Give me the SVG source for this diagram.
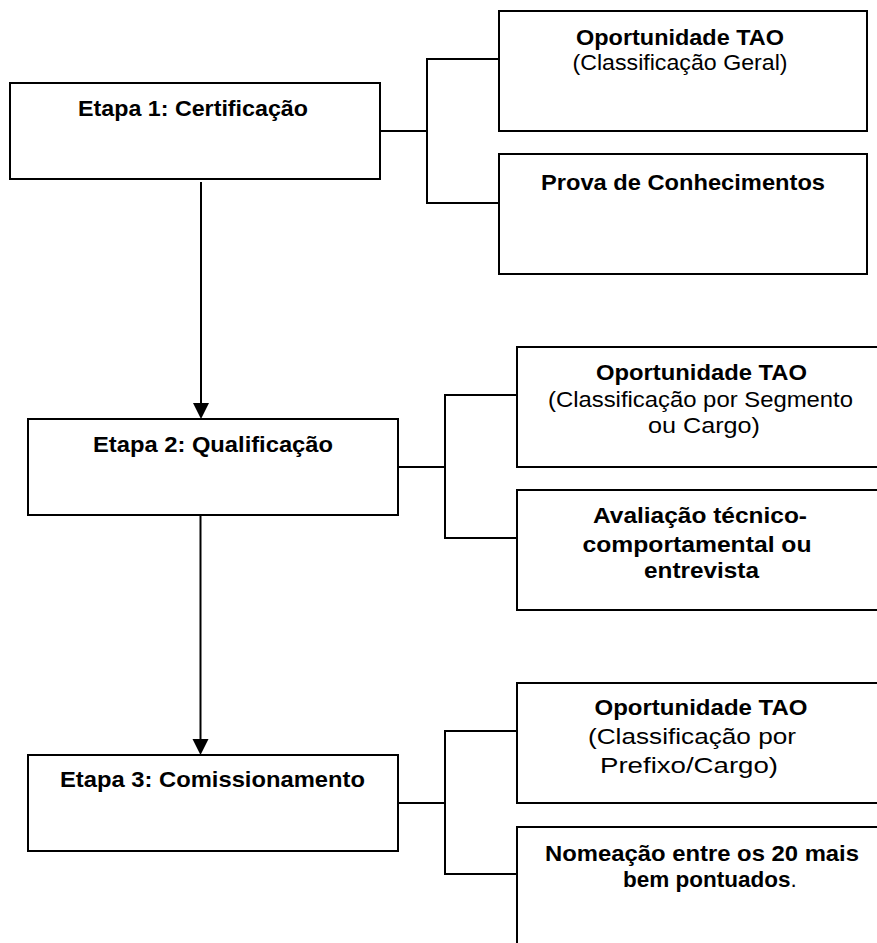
<svg xmlns="http://www.w3.org/2000/svg" width="877" height="943" viewBox="0 0 877 943">
<style>
.box{fill:#fff;stroke:#000;stroke-width:2}
.ln{fill:none;stroke:#000;stroke-width:2}
text{font-family:"Liberation Sans",Arial,Helvetica,sans-serif;font-size:22.5px;fill:#000;text-anchor:middle}
.b{font-weight:bold}
</style>
<rect width="877" height="943" fill="#fff"/>
<g id="connectors">
<polyline class="ln" points="380,131 427,131"/>
<polyline class="ln" points="499,59 427,59 427,203 499,203"/>
<polyline class="ln" points="398,467 445,467"/>
<polyline class="ln" points="517,395 445,395 445,538 517,538"/>
<polyline class="ln" points="398,803 445,803"/>
<polyline class="ln" points="517,731 445,731 445,874 517,874"/>
<line x1="201" y1="182" x2="201" y2="405" stroke="#000" stroke-width="2"/>
<polygon points="193,403 209,403 201,419" fill="#000"/>
<line x1="200.5" y1="515" x2="200.5" y2="741" stroke="#000" stroke-width="2"/>
<polygon points="192.5,739 208.5,739 200.5,755" fill="#000"/>
</g>
<g id="etapa1">
<rect class="box" x="10" y="83" width="370" height="96"/>
<text class="b" x="193" y="116" textLength="230" lengthAdjust="spacingAndGlyphs">Etapa 1: Certificação</text>
</g>
<g id="etapa2">
<rect class="box" x="28" y="419" width="370" height="96"/>
<text class="b" x="213" y="452" textLength="240" lengthAdjust="spacingAndGlyphs">Etapa 2: Qualificação</text>
</g>
<g id="etapa3">
<rect class="box" x="28" y="755" width="370" height="96"/>
<text class="b" x="212.5" y="787" textLength="305" lengthAdjust="spacingAndGlyphs">Etapa 3: Comissionamento</text>
</g>
<g id="tao1">
<rect class="box" x="499" y="11" width="368" height="120"/>
<text class="b" x="680" y="45" textLength="208" lengthAdjust="spacingAndGlyphs">Oportunidade TAO</text>
<text x="680" y="70" textLength="215" lengthAdjust="spacingAndGlyphs">(Classificação Geral)</text>
</g>
<g id="prova">
<rect class="box" x="499" y="154" width="368" height="120"/>
<text class="b" x="683" y="190" textLength="284" lengthAdjust="spacingAndGlyphs">Prova de Conhecimentos</text>
</g>
<g id="tao2">
<rect class="box" x="517" y="347" width="400" height="120"/>
<text class="b" x="701.5" y="380" textLength="211" lengthAdjust="spacingAndGlyphs">Oportunidade TAO</text>
<text x="700.5" y="407" textLength="305" lengthAdjust="spacingAndGlyphs">(Classificação por Segmento</text>
<text x="704" y="433" textLength="112" lengthAdjust="spacingAndGlyphs">ou Cargo)</text>
</g>
<g id="avaliacao">
<rect class="box" x="517" y="490" width="400" height="120"/>
<text class="b" x="700" y="523" textLength="214" lengthAdjust="spacingAndGlyphs">Avaliação técnico-</text>
<text class="b" x="697" y="552" textLength="229" lengthAdjust="spacingAndGlyphs">comportamental ou</text>
<text class="b" x="701.5" y="578" textLength="115" lengthAdjust="spacingAndGlyphs">entrevista</text>
</g>
<g id="tao3">
<rect class="box" x="517" y="683" width="400" height="120"/>
<text class="b" x="701" y="715" textLength="213" lengthAdjust="spacingAndGlyphs">Oportunidade TAO</text>
<text x="692" y="744" textLength="208" lengthAdjust="spacingAndGlyphs">(Classificação por</text>
<text x="689" y="773" textLength="178" lengthAdjust="spacingAndGlyphs">Prefixo/Cargo)</text>
</g>
<g id="nomeacao">
<rect class="box" x="517" y="827" width="400" height="200"/>
<text class="b" x="702" y="861" textLength="314" lengthAdjust="spacingAndGlyphs">Nomeação entre os 20 mais</text>
<text x="710" y="887"><tspan class="b">bem pontuados</tspan>.</text>
</g>
</svg>
